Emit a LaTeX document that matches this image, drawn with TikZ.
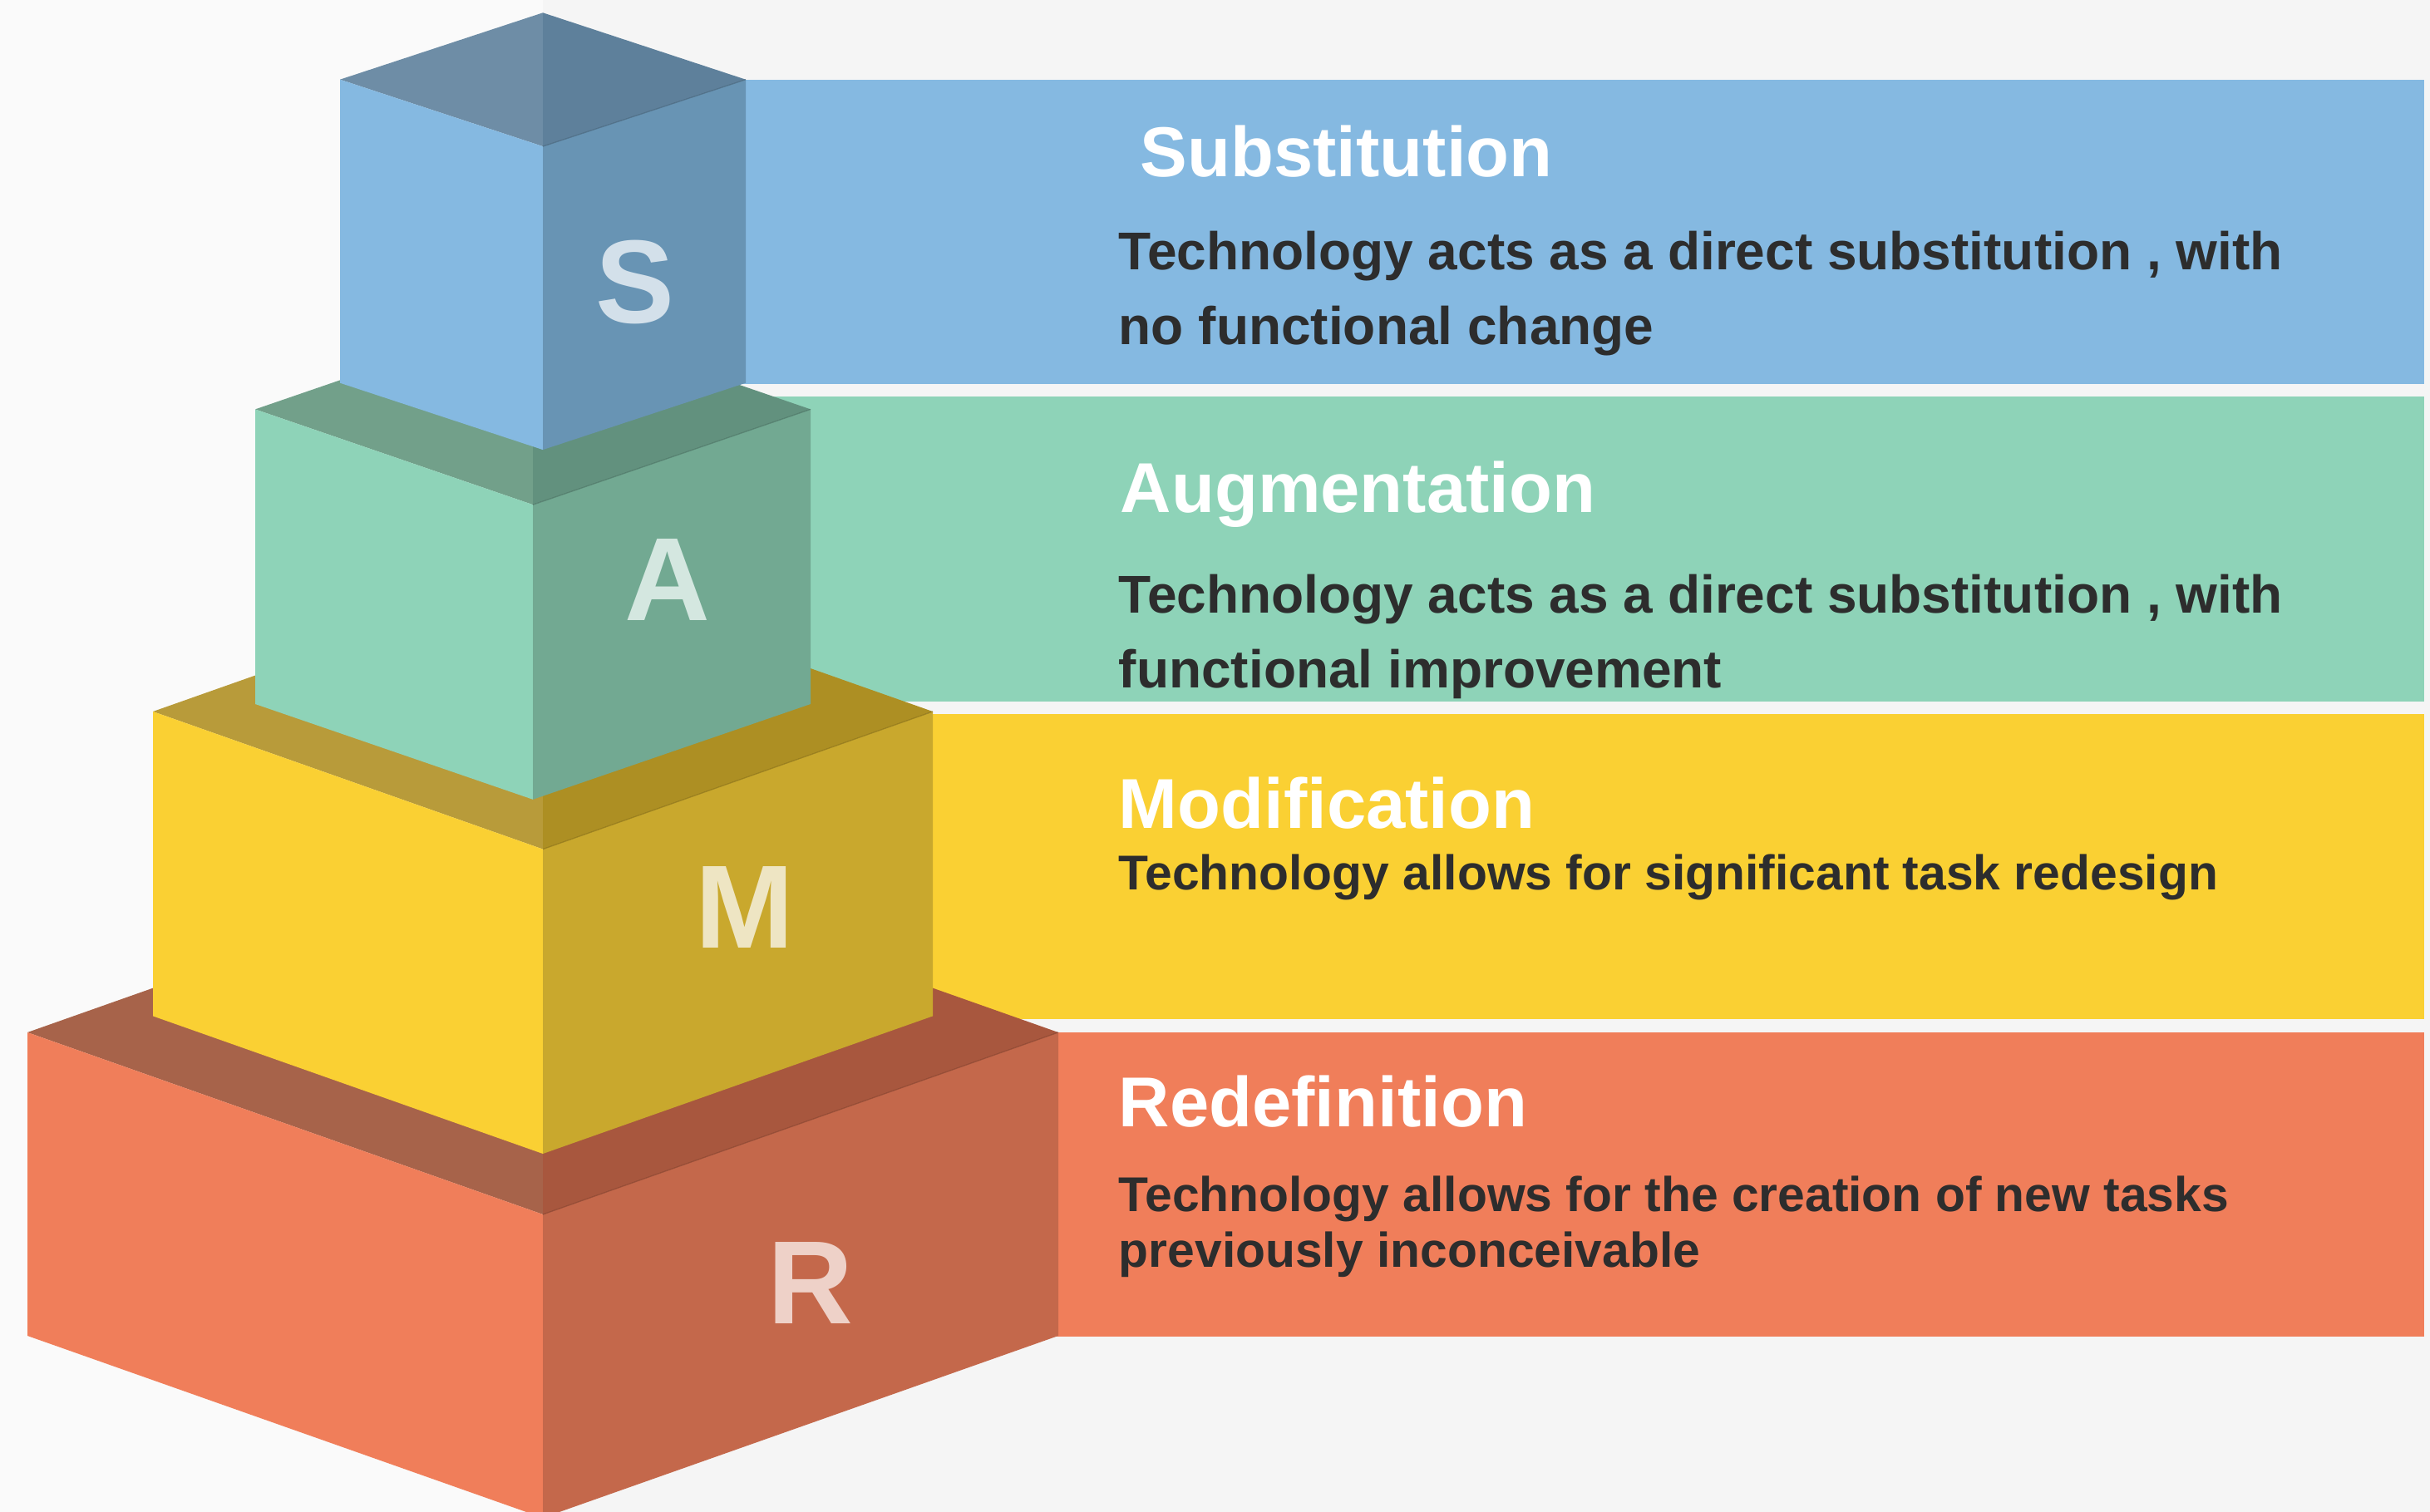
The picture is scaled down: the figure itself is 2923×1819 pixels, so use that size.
\documentclass[tikz,border=0pt]{standalone}
\usepackage{fontspec}
\setmainfont{Liberation Sans}
\definecolor{bgL}{HTML}{FAFAFA}
\definecolor{bgR}{HTML}{F5F5F5}
\definecolor{txt}{HTML}{2D2D2D}
% S
\definecolor{sTL}{HTML}{6E8DA6}
\definecolor{sTR}{HTML}{5E809B}
\definecolor{sFL}{HTML}{85B9E1}
\definecolor{sFR}{HTML}{6894B4}
\definecolor{sLet}{HTML}{D3E0EA}
% A
\definecolor{aTL}{HTML}{72A08A}
\definecolor{aTR}{HTML}{62917E}
\definecolor{aFL}{HTML}{8ED3B8}
\definecolor{aFR}{HTML}{72A992}
\definecolor{aLet}{HTML}{D4E7E0}
% M
\definecolor{mTL}{HTML}{B89B3A}
\definecolor{mTR}{HTML}{AD8F23}
\definecolor{mFL}{HTML}{FAD033}
\definecolor{mFR}{HTML}{C9A82D}
\definecolor{mLet}{HTML}{EEE5C3}
% R
\definecolor{rTL}{HTML}{A7634A}
\definecolor{rTR}{HTML}{A8573E}
\definecolor{rFL}{HTML}{F07E5A}
\definecolor{rFR}{HTML}{C4684B}
\definecolor{rLet}{HTML}{EED1C8}

% #1 cx, #2 corner y, #3 half width, #4 depth, #5 height, #6 colour prefix
\newcommand{\samrcube}[6]{%
  \fill[#6TL] (#1-#3,#2) -- (#1,#2-#4) -- (#1,#2+#4) -- cycle;
  \fill[#6TR] (#1,#2-#4) -- (#1+#3,#2) -- (#1,#2+#4) -- cycle;
  \fill[#6FL] (#1-#3,#2) -- (#1,#2+#4) -- (#1,#2+#4+#5) -- (#1-#3,#2+#5) -- cycle;
  \fill[#6FR] (#1,#2+#4) -- (#1+#3,#2) -- (#1+#3,#2+#5) -- (#1,#2+#4+#5) -- cycle;
  \draw[#6TR!75!black, line width=0.3pt, opacity=0.6] (#1,#2+#4) -- (#1+#3,#2);
}

\begin{document}
\begin{tikzpicture}[x=0.25pt,y=-0.25pt,
  bartitle/.style={anchor=base west, inner sep=0pt, text=white,
    font=\fontsize{21.25}{25}\selectfont\bfseries},
  barbody/.style={anchor=base west, inner sep=0pt, text=txt},
  cubeletter/.style={anchor=base, inner sep=0pt,
    font=\fontsize{35.6}{40}\selectfont\bfseries}]
\useasboundingbox (0,0) rectangle (2923,1819);
\clip (0,0) rectangle (2923,1819);
\fill[bgR] (0,0) rectangle (2923,1819);
\fill[bgL] (0,0) rectangle (653,1819);

% bars
\fill[sFL] (653,95.7) rectangle (2915.7,462.3);
\fill[aFL] (653,476.7) rectangle (2915.7,843.5);
\fill[mFL] (653,859) rectangle (2915.7,1225.7);
\fill[rFL] (653,1241.5) rectangle (2915.7,1607.5);

% cubes, bottom to top
\samrcube{653}{1242}{620}{219}{365}{r}
\samrcube{653}{856}{469}{165.6}{366.4}{m}
\samrcube{641}{492.4}{334}{114.8}{354.6}{a}
\samrcube{653}{95.7}{244}{80.4}{365}{s}

% letters
\node[cubeletter, text=sLet] (letS) at (763.5,388) {S};
\node[cubeletter, text=aLet] (letA) at (803,746) {A};
\node[cubeletter, text=mLet] (letM) at (896,1140) {M};
\node[cubeletter, text=rLet] (letR) at (975,1592) {R};

% texts
\node[bartitle] (titS) at (1371,212.7) {Substitution};
\node[barbody] (bodyS) at (1345,324.3) {\parbox[t]{380pt}{\raggedright\fontsize{16}{22.5}\selectfont\bfseries
  Technology acts as a direct substitution , with\\no functional change}};

\node[bartitle] (titA) at (1347,616) {Augmentation};
\node[barbody] (bodyA) at (1345,737.3) {\parbox[t]{380pt}{\raggedright\fontsize{16}{22.6}\selectfont\bfseries
  Technology acts as a direct substitution , with\\functional improvement}};

\node[bartitle] (titM) at (1345,996.7) {Modification};
\node[barbody] (bodyM) at (1345,1070) {\parbox[t]{380pt}{\raggedright\fontsize{14.7}{20}\selectfont\bfseries
  Technology allows for significant task redesign}};

\node[bartitle] (titR) at (1345,1355.7) {Redefinition};
\node[barbody] (bodyR) at (1345,1457.3) {\parbox[t]{380pt}{\raggedright\fontsize{14.7}{16.75}\selectfont\bfseries
  Technology allows for the creation of new tasks\\previously inconceivable}};
\end{tikzpicture}
\end{document}
